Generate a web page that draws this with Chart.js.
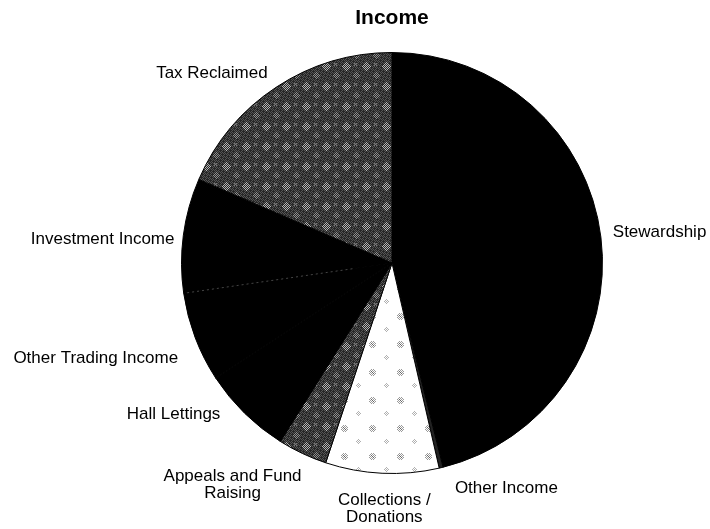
<!DOCTYPE html>
<html>
<head>
<meta charset="utf-8">
<script src="https://cdn.jsdelivr.net/npm/chart.js@4/dist/chart.umd.min.js"></script>
<style>
  html, body { margin: 0; padding: 0; background: #fff; }
  #wrap { width: 710px; height: 529px; position: relative; }
</style>
</head>
<body>
<div id="wrap"><canvas id="c" width="710" height="529"></canvas></div>
<script>
// ---- data ----
const categories = ["Stewardship", "Other Income", "Collections /\nDonations", "Appeals and Fund\nRaising", "Hall Lettings", "Other Trading Income", "Investment Income", "Tax Reclaimed"];
const values = [46.1, 0.3, 8.7, 3.8, 6.9, 6.9, 8.8, 18.5];
const chartTitle = "Income";

// ---- label layout (text alignment and small nudges from the slice mid-angle anchor) ----
const labelAlign = ["left", "left", "center", "center", "right", "right", "right", "right"];
const labelNudgeX = [-4, 10, 3, -63, -13, -2, 7, 0];
const labelNudgeY = [-3, 5, 11, 8, -10, 15, 6, 0];

// ---- patterns ----
function makeTile(w, h, draw) {
  const c = document.createElement('canvas');
  c.width = w; c.height = h;
  const g = c.getContext('2d');
  draw(g, w, h);
  return document.getElementById('c').getContext('2d').createPattern(c, 'repeat');
}
function blob(g, cx, cy, r, color, parity) {
  g.fillStyle = color;
  for (let y = Math.floor(cy - r); y <= cy + r; y++) for (let x = Math.floor(cx - r); x <= cx + r; x++) {
    if ((x - cx) * (x - cx) + (y - cy) * (y - cy) <= r * r && ((x + y) % 2 === parity)) g.fillRect(x, y, 1, 1);
  }
}
const mottled = makeTile(20, 20, (g, w, h) => {
  g.fillStyle = '#262626'; g.fillRect(0, 0, w, h);
  for (let y = 0; y < h; y++) for (let x = 0; x < w; x++) {
    if ((x + y) % 2 === 0 && (x * 3 + y) % 5 !== 0) { g.fillStyle = '#555555'; g.fillRect(x, y, 1, 1); }
  }
  blob(g, 6, 6, 4.2, '#b4b4b4', 0);
  blob(g, 16, 15, 3.2, '#8e8e8e', 0);
  blob(g, 15, 4, 1.8, '#777777', 1);
});
const dotted = makeTile(28, 28, (g, w, h) => {
  g.fillStyle = '#ffffff'; g.fillRect(0, 0, w, h);
  blob(g, 8, 8, 3.6, '#9a9a9a', 0);
  g.fillStyle = '#666666';
  [[8,8],[7,7],[9,9]].forEach(p => g.fillRect(p[0], p[1], 1, 1));
  blob(g, 22, 21, 2.6, '#b0b0b0', 1);
});
const sliceColors = ['#000000', '#222222', dotted, mottled, '#000000', '#000000', '#000000', mottled];

const FONT = "'Liberation Sans', Arial, sans-serif";

const extrasPlugin = {
  id: 'extras',
  afterDatasetsDraw(chart) {
    const ctx = chart.ctx;
    const arcs = chart.getDatasetMeta(0).data;
    // faint dotted boundary between Other Trading Income and Investment Income
    const inv = arcs[6];
    ctx.save();
    ctx.strokeStyle = '#444444';
    ctx.lineWidth = 1;
    ctx.setLineDash([2, 3]);
    ctx.beginPath();
    ctx.moveTo(inv.x + Math.cos(inv.startAngle) * 40, inv.y + Math.sin(inv.startAngle) * 40);
    ctx.lineTo(inv.x + Math.cos(inv.startAngle) * (inv.outerRadius - 3), inv.y + Math.sin(inv.startAngle) * (inv.outerRadius - 3));
    ctx.stroke();
    ctx.restore();

    // outside labels
    ctx.save();
    ctx.fillStyle = '#000';
    ctx.font = "17px " + FONT;
    ctx.textBaseline = 'middle';
    arcs.forEach((a, i) => {
      const mid = (a.startAngle + a.endAngle) / 2;
      const rr = a.outerRadius + 16;
      const x = a.x + Math.cos(mid) * rr + labelNudgeX[i];
      const y = a.y + Math.sin(mid) * rr + labelNudgeY[i];
      ctx.textAlign = labelAlign[i];
      categories[i].split('\n').forEach((line, k) => {
        ctx.fillText(line, x, y + k * 17);
      });
    });
    ctx.restore();
  }
};

new Chart(document.getElementById('c'), {
  type: 'pie',
  data: {
    labels: categories,
    datasets: [{
      data: values,
      backgroundColor: sliceColors,
      borderColor: '#000000',
      borderWidth: 1
    }]
  },
  options: {
    responsive: false,
    devicePixelRatio: 1,
    animation: false,
    layout: { padding: { left: 181, right: 107, top: 0, bottom: 55 } },
    plugins: {
      legend: { display: false },
      tooltip: { enabled: false },
      title: {
        display: true,
        text: chartTitle,
        color: '#000',
        font: { family: FONT, size: 21, weight: 'bold' },
        padding: { top: 6, bottom: 20.8 }
      }
    }
  },
  plugins: [extrasPlugin]
});
</script>
</body>
</html>
